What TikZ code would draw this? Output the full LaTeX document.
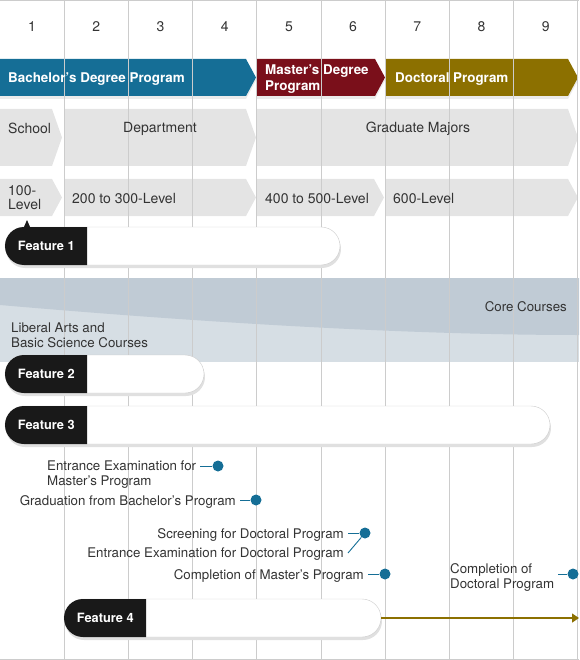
\documentclass[tikz,border=0pt]{standalone}
\usepackage{fontspec}
\setmainfont{TeX Gyre Heros}
\usetikzlibrary{shapes.misc,arrows.meta,shadows}

\definecolor{bachblue}{HTML}{156E96}
\definecolor{mastred}{HTML}{7A0F1A}
\definecolor{docolive}{HTML}{8C7000}
\definecolor{chevgray}{HTML}{E4E4E4}
\definecolor{banddark}{HTML}{C0CBD5}
\definecolor{bandlight}{HTML}{D6DEE4}
\definecolor{gridgray}{HTML}{CCCCCC}
\definecolor{txtgray}{HTML}{333333}

\tikzset{
  colnum/.style={font=\fontsize{14}{16}\selectfont, text=txtgray, inner sep=0},
  bartext/.style={font=\bfseries\fontsize{13.4}{16}\selectfont, text=white, anchor=west, align=left, inner sep=0, yshift=-1.5pt},
  chevtext/.style={font=\fontsize{14}{14}\selectfont, text=txtgray, inner sep=0, align=left},
  evtext/.style={font=\fontsize{13.3}{15}\selectfont, text=txtgray, inner sep=0, inner xsep=4pt, align=left, yshift=-1.5pt},
  evdot/.style={circle, fill=bachblue, inner sep=0, minimum size=11pt},
  evline/.style={draw=bachblue, line width=0.9pt},
  pill/.style={rounded rectangle, draw=gray!40, fill=white, minimum height=38pt, inner sep=0,
    drop shadow={shadow xshift=1pt, shadow yshift=-3pt, fill=black!12, opacity=1}},
  featlab/.style={rounded rectangle, rounded rectangle right arc=none, fill=black!90, text=white,
    font=\bfseries\fontsize{12.8}{14}\selectfont, minimum width=82pt, minimum height=38pt, inner sep=0, anchor=west},
  gridline/.style={draw=gridgray, line width=1pt}
}

\begin{document}
\begin{tikzpicture}[x=1pt,y=-1pt]
\useasboundingbox (0,0) rectangle (579,660);

% course band
\fill[bandlight] (0,278) rectangle (579,362);
\fill[banddark] (0,278) -- (579,278) -- (579,335) .. controls (380,335) and (150,318) .. (0,305) -- cycle;

% program bars and level chevrons
\foreach \xa/\xb/\col in {0/256/bachblue, 257/385/mastred, 386/578/docolive}{
  \fill[black!8] (\xa,62) -- ({\xb-10},62) -- (\xb,80.5) -- ({\xb-10},99) -- (\xa,99) -- cycle;
  \fill[\col] (\xa,59) -- ({\xb-10},59) -- (\xb,77.5) -- ({\xb-10},96) -- (\xa,96) -- cycle;
}
\foreach \xa/\xb/\ya/\yb in {0/62/109/166, 64/256/109/166, 257/578/109/166,
    0/62/179/216, 64/256/179/216, 257/384/179/216, 386/578/179/216}
  \fill[chevgray] (\xa,\ya) -- ({\xb-10},\ya) -- (\xb,{(\ya+\yb)/2}) -- ({\xb-10},\yb) -- (\xa,\yb) -- cycle;

% grid
\foreach \i in {1,...,9}
  \draw[gridline] ({64.2*\i},0) -- ({64.2*\i},660);
\draw[gridline] (0,0.5) -- (579,0.5);
\draw[gridline] (0,659) -- (579,659);

\foreach \i in {1,...,9}
  \node[colnum] (c\i) at ({64.2*(\i-0.5)},27) {\i};

\node[bartext] (bach) at (8,77.5) {Bachelor's Degree Program};
\node[bartext] (mast) at (265,78) {Master's Degree\\Program};
\node[bartext] (doct) at (395,77.5) {Doctoral Program};

\node[chevtext, anchor=west] (school) at (8,128.5) {School};
\node[chevtext] (dept) at (160,128.5) {Department};
\node[chevtext] (grad) at (418,128.5) {Graduate Majors};
\node[chevtext, anchor=west] (lv1) at (8,197.5) {100-\\Level};
\node[chevtext, anchor=west] (lv2) at (72,198.5) {200 to 300-Level};
\node[chevtext, anchor=west] (lv3) at (265,198.5) {400 to 500-Level};
\node[chevtext, anchor=west] (lv4) at (393,198.5) {600-Level};

\node[evtext, anchor=east] (core) at (571,305) {Core Courses};
\node[evtext, anchor=west] (lib) at (7,333.5) {Liberal Arts and\\Basic Science Courses};

% features
\node[pill, minimum width=335pt] (p1) at (172.5,246) {};
\node[pill, minimum width=199pt] (p2) at (104.5,374) {};
\node[pill, minimum width=545pt] (p3) at (277.5,425) {};
\node[pill, minimum width=317pt] (p4) at (222.5,618) {};
\fill[black!90] (23.5,228) -- (27,220) -- (30.5,228) -- cycle;
\foreach \n in {1,...,4}
  \node[featlab] (f\n) at (p\n.west) {Feature \n};

% events
\node[evdot] (d1) at (218,466) {};
\node[evdot] (d2) at (256,500) {};
\node[evdot] (d3) at (365,533) {};
\node[evdot] (d5) at (385,574) {};
\node[evdot] (d6) at (573,574) {};
\node[evtext, anchor=west] (e1) at (43,473.5) {Entrance Examination for\\Master's Program};
\node[evtext, anchor=east] (e2) at (240,500) {Graduation from Bachelor's Program};
\node[evtext, anchor=east] (e3) at (348,533) {Screening for Doctoral Program};
\node[evtext, anchor=east] (e4) at (348,553) {Entrance Examination for Doctoral Program};
\node[evtext, anchor=east] (e5) at (368,574) {Completion of Master's Program};
\node[evtext, anchor=west] (e6) at (446,575.5) {Completion of\\Doctoral Program};
\draw[evline] (d1) -- (d1 -| e1.east);
\draw[evline] (d2) -- (d2 -| e2.east);
\draw[evline] (d3) -- (d3 -| e3.east);
\draw[evline] (d3) -- ([yshift=1.5pt]e4.east);
\draw[evline] (d5) -- (d5 -| e5.east);
\draw[evline] (d6) -- (d6 -| e6.east);

\coordinate (end4) at (579,618);
\draw[docolive, line width=1.2pt, -{Triangle[length=7pt,width=9pt]}] (p4.east) -- (end4);
\end{tikzpicture}
\end{document}
